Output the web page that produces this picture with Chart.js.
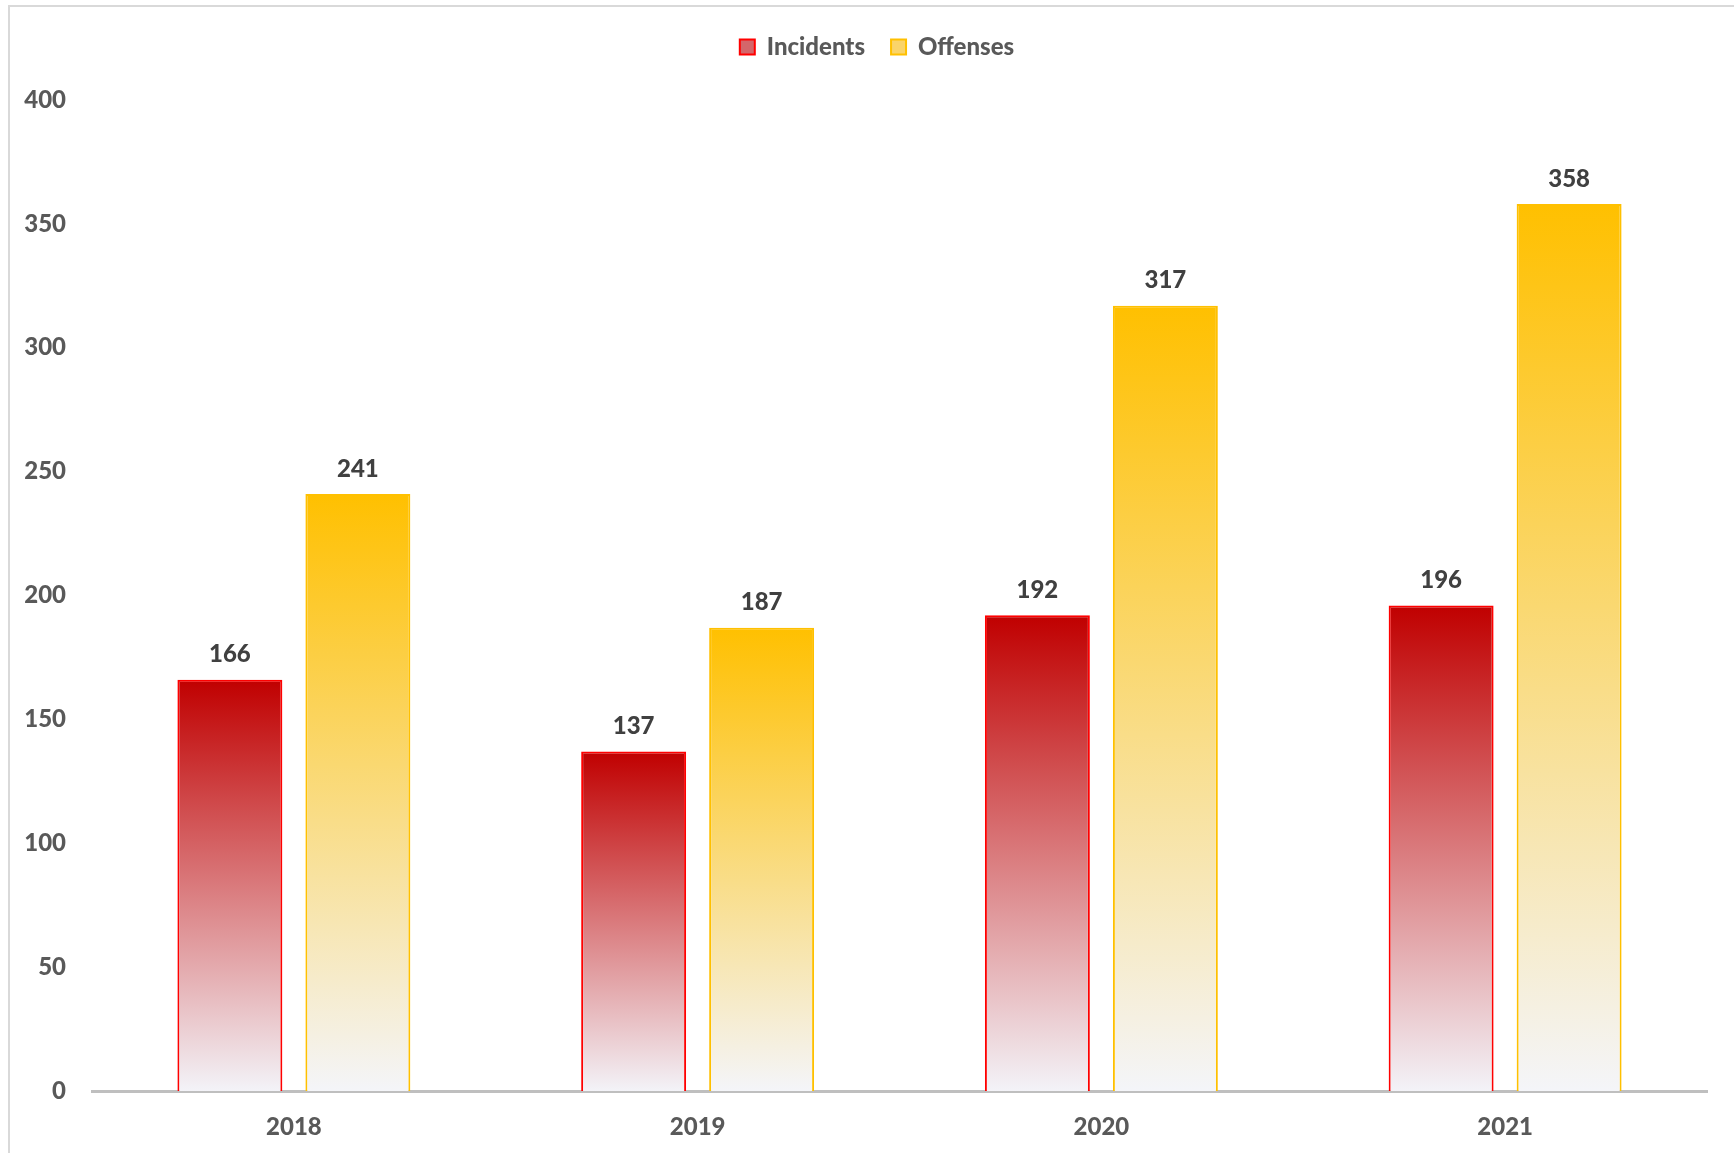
<!DOCTYPE html>
<html>
<head>
<meta charset="utf-8">
<script src="https://cdn.jsdelivr.net/npm/chart.js@4/dist/chart.umd.min.js"></script>
<style>
  body { margin: 0; background: #fff; overflow: hidden; }
  #frame { position: absolute; left: 8px; top: 5px; width: 1740px; height: 1160px; border: 2px solid #d9d9d9; }
  #wrap { position: absolute; left: 0; top: 0; width: 1734px; height: 1153px; }
</style>
</head>
<body>
<div id="frame"></div>
<div id="wrap"><canvas id="barChart"></canvas></div>
<script>
const years = ["2018", "2019", "2020", "2021"];
const incidents = [166, 137, 192, 196];
const offenses = [241, 187, 317, 358];
const yTicks = [0, 50, 100, 150, 200, 250, 300, 350, 400];

const FONT = "Lato, 'Open Sans', sans-serif";
const WEIGHT = "900";

// vertical gradient per bar, from its top down to zero
function barGradient(ctx, topColor, bottomColor) {
  const chart = ctx.chart;
  if (!chart.chartArea || ctx.raw === undefined) return topColor;
  const y = chart.scales.y;
  const g = chart.ctx.createLinearGradient(0, y.getPixelForValue(ctx.raw), 0, y.getPixelForValue(0));
  g.addColorStop(0, topColor);
  g.addColorStop(1, bottomColor);
  return g;
}

const valueLabels = {
  id: "valueLabels",
  afterDatasetsDraw(chart) {
    const c = chart.ctx;
    c.save();
    c.font = WEIGHT + " 24px " + FONT;
    c.fillStyle = "#404040";
    c.textAlign = "center";
    c.textBaseline = "bottom";
    chart.data.datasets.forEach((ds, i) => {
      chart.getDatasetMeta(i).data.forEach((bar, j) => {
        c.fillText(ds.data[j], bar.x, bar.y - 13);
      });
    });
    c.restore();
  }
};

// extra room under the legend, and centre it a bit to the right
const legendTweak = {
  id: "legendTweak",
  afterInit(chart) {
    const lg = chart.legend;
    const fit = lg.fit.bind(lg);
    lg.fit = function () { fit(); this.height += 31; };
  },
  afterLayout(chart) {
    chart.legend.left += 47;
  }
};

new Chart(document.getElementById("barChart"), {
  type: "bar",
  data: {
    labels: years,
    datasets: [
      {
        label: "Incidents",
        data: incidents,
        backgroundColor: (ctx) => barGradient(ctx, "#c00000", "#f3f3f8"),
        borderColor: "#ff0000",
        borderWidth: 2,
        categoryPercentage: 0.634,
        barPercentage: 0.82
      },
      {
        label: "Offenses",
        data: offenses,
        backgroundColor: (ctx) => barGradient(ctx, "#ffc000", "#f4f5f9"),
        borderColor: "#ffc000",
        borderWidth: 2,
        categoryPercentage: 0.634,
        barPercentage: 0.82
      }
    ]
  },
  options: {
    responsive: true,
    maintainAspectRatio: false,
    animation: false,
    layout: { padding: { top: 9, right: 27, bottom: 0, left: 0 } },
    plugins: {
      tooltip: { enabled: false },
      legend: {
        position: "top",
        labels: {
          boxWidth: 15,
          boxHeight: 15,
          padding: 26,
          color: "#595959",
          font: { family: FONT, size: 24, weight: WEIGHT },
          generateLabels: () => [
            { text: "Incidents", fillStyle: "#d4666a", strokeStyle: "#ff0000", fontColor: "#595959", lineWidth: 2, datasetIndex: 0 },
            { text: "Offenses", fillStyle: "#fad46a", strokeStyle: "#ffc000", fontColor: "#595959", lineWidth: 2, datasetIndex: 1 }
          ]
        }
      }
    },
    scales: {
      x: {
        grid: { display: false, drawTicks: false },
        border: { display: true, color: "#bfbfbf", width: 3 },
        ticks: { color: "#595959", padding: 22, font: { family: FONT, size: 24, weight: WEIGHT } },
        afterFit: (s) => { s.height = 62; }
      },
      y: {
        min: 0,
        max: 400,
        afterBuildTicks: (s) => { s.ticks = yTicks.map((v) => ({ value: v })); },
        grid: { display: false, drawTicks: false },
        border: { display: false },
        ticks: { color: "#595959", padding: 26, font: { family: FONT, size: 24, weight: WEIGHT } },
        afterFit: (s) => { s.width = 92; }
      }
    }
  },
  plugins: [valueLabels, legendTweak]
});
</script>
</body>
</html>
